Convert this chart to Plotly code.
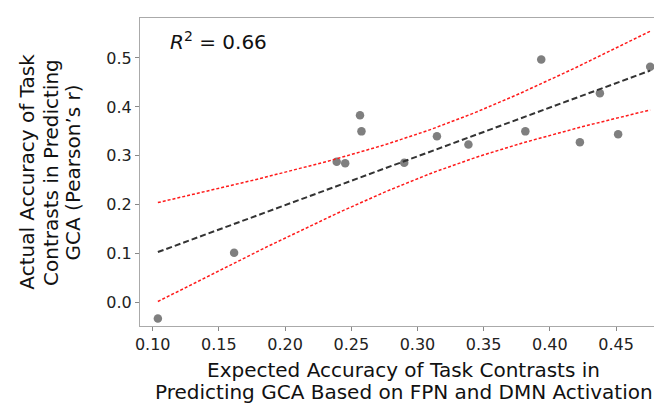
import numpy as np
import plotly.graph_objects as go

# Data
expected_acc = [0.1039, 0.1615, 0.2390, 0.2454, 0.2566, 0.2577, 0.2900, 0.3147,
                0.3385, 0.3815, 0.3935, 0.4227, 0.4378, 0.4516, 0.4758]
actual_acc = [-0.0325, 0.102, 0.288, 0.285, 0.383, 0.350, 0.286, 0.340,
              0.323, 0.350, 0.497, 0.328, 0.428, 0.344, 0.482]
x_ticks = [0.10, 0.15, 0.20, 0.25, 0.30, 0.35, 0.40, 0.45]
y_ticks = [0.0, 0.1, 0.2, 0.3, 0.4, 0.5]
r2_label = "<i>R</i><sup>2</sup> = 0.66"
x_title_lines = ["Expected Accuracy of Task Contrasts in",
                 "Predicting GCA Based on FPN and DMN Activation"]
y_title_lines = ["Actual Accuracy of Task",
                 "Contrasts in Predicting",
                 "GCA (Pearson’s r)"]

x = np.array(expected_acc)
y = np.array(actual_acc)
n = len(x)
slope, intercept = np.polyfit(x, y, 1)
grid = np.linspace(x.min(), x.max(), 100)
fit = slope * grid + intercept
resid = y - (slope * x + intercept)
s = np.sqrt(np.sum(resid ** 2) / (n - 2))
sxx = np.sum((x - x.mean()) ** 2)
t_val = 2.160  # t(0.975, df=13)
half = t_val * s * np.sqrt(1.0 / n + (grid - x.mean()) ** 2 / sxx)

font = "DejaVu Sans"
title_font = dict(family=font, size=20, color="#111111")
fig = go.Figure()
fig.add_trace(go.Scatter(x=x, y=y, mode="markers",
                         marker=dict(color="#7f7f7f", size=8.5), showlegend=False))
fig.add_trace(go.Scatter(x=grid, y=fit, mode="lines",
                         line=dict(color="#333333", width=2, dash="6px,3px"), showlegend=False))
fig.add_trace(go.Scatter(x=grid, y=fit + half, mode="lines",
                         line=dict(color="#ff1a1a", width=1.5, dash="3px,2px"), showlegend=False))
fig.add_trace(go.Scatter(x=grid, y=fit - half, mode="lines",
                         line=dict(color="#ff1a1a", width=1.5, dash="3px,2px"), showlegend=False))

fig.add_annotation(x=0.053, y=0.926, xref="paper", yref="paper", xanchor="left", yanchor="middle",
                   text=r2_label, showarrow=False, font=title_font)

# axis titles (one annotation per line for matching line spacing)
for txt, py in zip(x_title_lines, [-0.1433, -0.2150]):
    fig.add_annotation(x=0.5, y=py, xref="paper", yref="paper", xanchor="center", yanchor="middle",
                       text=txt, showarrow=False, font=title_font)
for txt, px in zip(y_title_lines, [-0.2150, -0.1691, -0.1264]):
    fig.add_annotation(x=px, y=0.5, xref="paper", yref="paper", xanchor="center", yanchor="middle",
                       text=txt, textangle=-90, showarrow=False, font=title_font)

axis_common = dict(showgrid=False, zeroline=False, showline=True, linecolor="#aaaaaa", linewidth=1,
                   mirror=True, ticks="outside", ticklen=4, tickcolor="#888888",
                   tickfont=dict(family=font, size=16, color="#222222"))
fig.update_xaxes(range=[0.0904, 0.4885], tickvals=x_ticks, tickformat=".2f", **axis_common)
fig.update_yaxes(range=[-0.0476, 0.5816], tickvals=y_ticks, tickformat=".1f", **axis_common)
fig.update_layout(width=662, height=403, margin=dict(l=132, r=3, t=10, b=85),
                  plot_bgcolor="white", paper_bgcolor="white")
fig.write_html("out.html")
